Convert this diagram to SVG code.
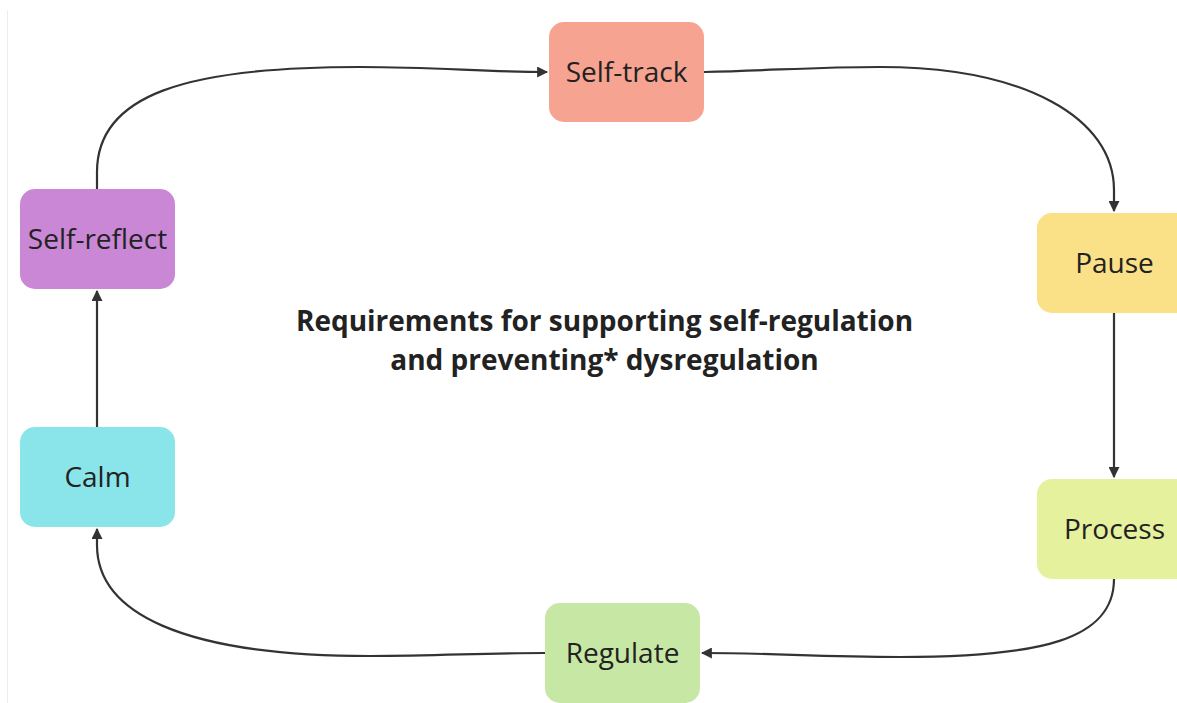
<svg xmlns="http://www.w3.org/2000/svg" width="1177" height="703" viewBox="0 0 1177 703">
  <style>
    .node rect { rx: 15px; ry: 15px; }
    .label { font-family: "Open Sans", "Noto Sans", sans-serif; font-size: 28px; fill: #222222; text-anchor: middle; dominant-baseline: central; }
    .title { font-family: "Open Sans", "Noto Sans", sans-serif; font-size: 28px; font-weight: bold; fill: #222222; text-anchor: middle; }
    .edge { fill: none; stroke: #333333; stroke-width: 2.2; marker-end: url(#arrow); }
  </style>
  <defs>
    <marker id="arrow" viewBox="0 0 10 10" refX="9" refY="5" markerWidth="5" markerHeight="5" orient="auto" markerUnits="strokeWidth">
      <path d="M0,0 L10,5 L0,10 Z" fill="#333333"/>
    </marker>
  </defs>

  <rect width="1177" height="703" fill="#ffffff"/>
  <!-- frame edge -->
  <line x1="7.5" y1="10" x2="7.5" y2="703" stroke="#eeeeee" stroke-width="1"/>

  <g id="connectors">
    <path class="edge" d="M97,189 L97,172 C97,95 185,67 360,67 C440,67 480,72 547,72"/>
    <path class="edge" d="M704,72 C780,70 820,67 880,67 C1025,67 1114,118 1114,190 L1114,211"/>
    <path class="edge" d="M1114,313 L1114,477"/>
    <path class="edge" d="M1114,579 C1114,640 1040,657 900,657 C820,657 770,653 702,653"/>
    <path class="edge" d="M545,653 C480,653 440,656 370,656 C180,656 97,612 97,545 L97,529"/>
    <path class="edge" d="M97,427 L97,291"/>
  </g>

  <g id="node-self-track" class="node">
    <rect x="549" y="22" width="155" height="100" fill="#F7A392"/>
    <text class="label" x="626.5" y="71">Self-track</text>
  </g>
  <g id="node-pause" class="node">
    <rect x="1037" y="213" width="155" height="100" fill="#FAE087"/>
    <text class="label" x="1114.5" y="262">Pause</text>
  </g>
  <g id="node-process" class="node">
    <rect x="1037" y="479" width="155" height="100" fill="#E6F19D"/>
    <text class="label" x="1114.5" y="528">Process</text>
  </g>
  <g id="node-regulate" class="node">
    <rect x="545" y="603" width="155" height="100" fill="#C7E7A4"/>
    <text class="label" x="622.5" y="652">Regulate</text>
  </g>
  <g id="node-calm" class="node">
    <rect x="20" y="427" width="155" height="100" fill="#8AE5EA"/>
    <text class="label" x="97.5" y="476">Calm</text>
  </g>
  <g id="node-self-reflect" class="node">
    <rect x="20" y="189" width="155" height="100" fill="#C987D6"/>
    <text class="label" x="97.5" y="238">Self-reflect</text>
  </g>

  <g id="title">
    <text class="title" x="604.5" y="331">Requirements for supporting self-regulation</text>
    <text class="title" x="604.5" y="370">and preventing* dysregulation</text>
  </g>
</svg>
